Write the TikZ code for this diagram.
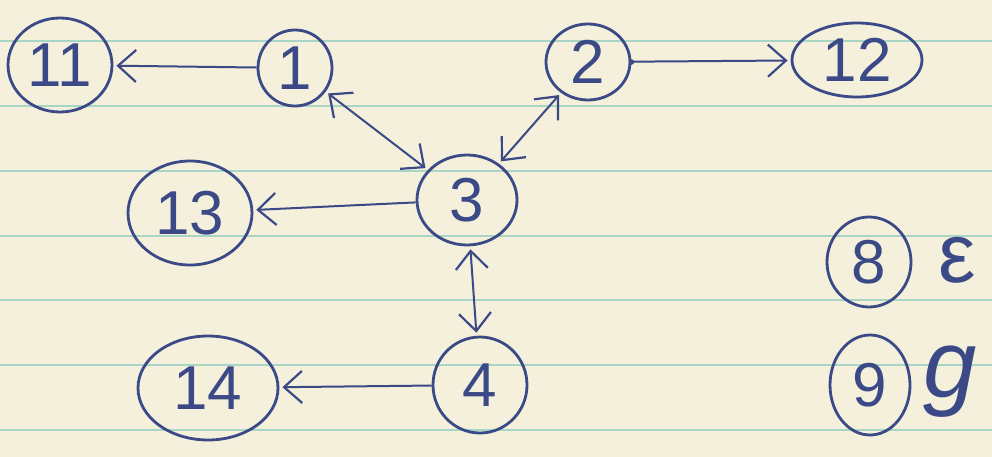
\documentclass[tikz,border=0pt]{standalone}
\usepackage{fontspec}
\setmainfont{Liberation Sans}
\usetikzlibrary{shapes.geometric,arrows.meta}
\definecolor{paper}{HTML}{F4F0DC}
\definecolor{rulegreen}{HTML}{A9D5C6}
\definecolor{ink}{HTML}{3B4A86}
\begin{document}
\begin{tikzpicture}[x=1pt,y=-1pt,
  vtx/.style={ellipse,draw=ink,line width=2.8pt,inner sep=0pt,text=ink,
    font=\fontsize{62}{62}\selectfont},
  barb/.tip={Straight Barb[length=18pt,width=32pt,line width=2.2pt]},
  edge/.style={draw=ink,line width=2pt,-barb,shorten >=3pt},
  both/.style={draw=ink,line width=2pt,barb-barb,shorten >=3pt,shorten <=3pt},
  glyph/.style={text=ink}
]
% lined paper
\fill[paper] (0,0) rectangle (992,457);
\useasboundingbox (0,0) rectangle (992,457);
\foreach \y in {41,106,171,236,300,365,430}
  \draw[rulegreen,line width=1.2pt] (0,\y) -- (992,\y);

% vertices
\node[vtx,minimum width=104pt,minimum height=94pt] (n11) at (60,65) {11};
\node[vtx,minimum width=74pt,minimum height=76pt] (n1) at (295,68) {1};
\node[vtx,minimum width=84pt,minimum height=76pt] (n2) at (588,62) {2};
\node[vtx,minimum width=130pt,minimum height=74pt] (n12) at (857,60) {12};
\node[vtx,minimum width=100pt,minimum height=90pt] (n3) at (467,200) {3};
\node[vtx,minimum width=124pt,minimum height=104pt] (n13) at (190,213) {13};
\node[vtx,minimum width=94pt,minimum height=96pt] (n4) at (480,385) {4};
\node[vtx,minimum width=140pt,minimum height=104pt] (n14) at (208,388) {14};
\node[vtx,minimum width=84pt,minimum height=90pt] (n8) at (869,262) {8};
\node[vtx,minimum width=80pt,minimum height=100pt] (n9) at (870,385) {9};

% labels beside 8 and 9
\node[glyph,font=\fontsize{84}{84}\selectfont] (eps) at (957,260) {ε};
\node[glyph,font=\fontsize{96}{96}\itshape] (gee) at (950,382) {g};

% connectors
\draw[edge] (n1) -- (n11);
\draw[edge] (n2) -- (n12);
\fill[ink] (n2.east) circle (2.8pt);
\draw[both] (n3) -- (n1);
\draw[both] (n3) -- (n2);
\draw[edge] (n3) -- (n13);
\draw[both] (n3) -- (n4);
\draw[edge] (n4) -- (n14);
\end{tikzpicture}
\end{document}
